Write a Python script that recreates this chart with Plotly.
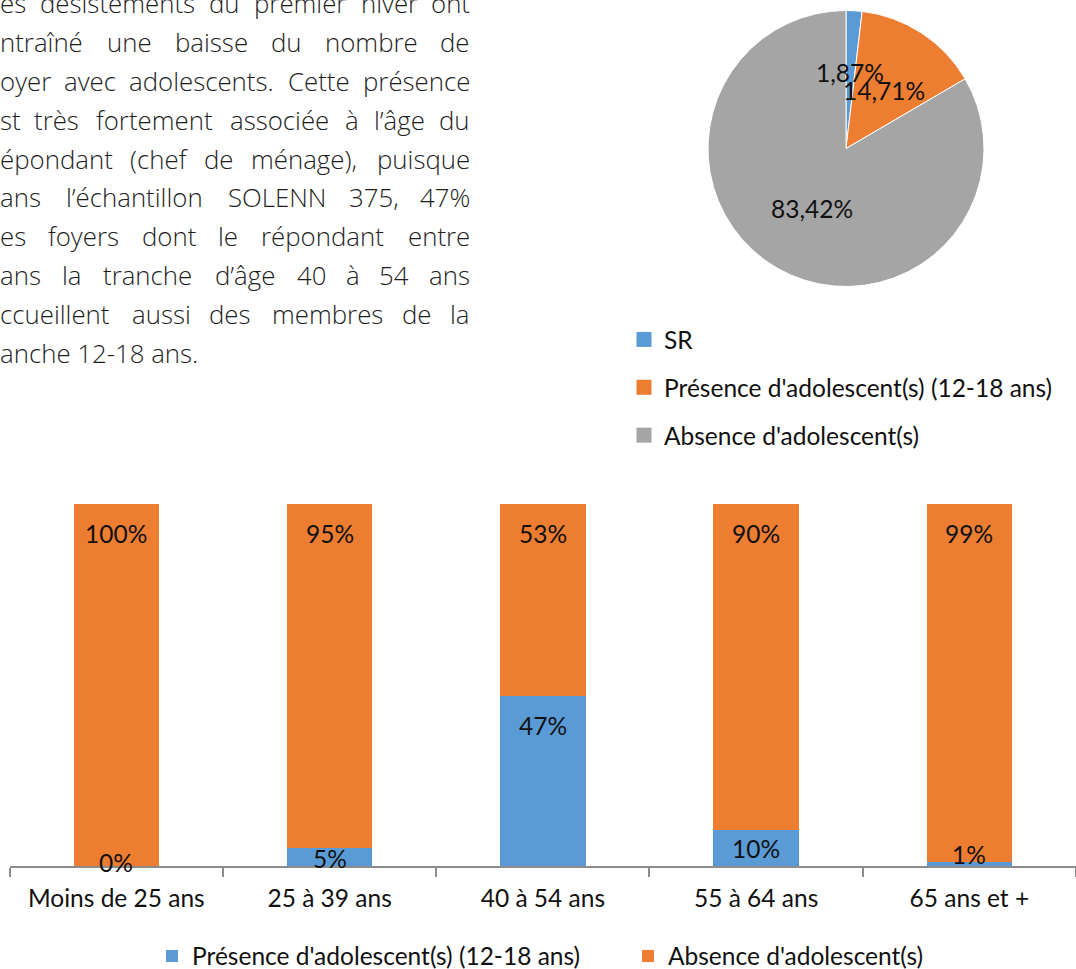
import math
import unicodedata
import plotly.graph_objects as go

W, H = 1076, 969

# ---------------- data ----------------
pie_labels = ["SR", "Présence d'adolescent(s) (12-18 ans)", "Absence d'adolescent(s)"]
pie_values = [1.87, 14.71, 83.42]
pie_text = ["1,87%", "14,71%", "83,42%"]

age_groups = ["Moins de 25 ans", "25 à 39 ans", "40 à 54 ans", "55 à 64 ans", "65 ans et +"]
presence = [0.00, 0.05, 0.47, 0.10, 0.01]
absence = [1.00, 0.95, 0.53, 0.90, 0.99]
presence_text = ["0%", "5%", "47%", "10%", "1%"]
absence_text = ["100%", "95%", "53%", "90%", "99%"]
bar_names = ["Présence d'adolescent(s) (12-18 ans)", "Absence d'adolescent(s)"]

paragraph_lines = [
    "es désistements du premier hiver ont",
    "ntraîné une baisse du nombre de",
    "oyer avec adolescents. Cette présence",
    "st très fortement associée à l’âge du",
    "épondant (chef de ménage), puisque",
    "ans l’échantillon SOLENN 375, 47%",
    "es foyers dont le répondant entre",
    "ans la tranche d’âge 40 à 54 ans",
    "ccueillent aussi des membres de la",
    "anche 12-18 ans.",
]

# ---------------- style ----------------
BLUE, ORANGE, GRAY = "#5B9BD5", "#ED7D31", "#A5A5A5"
pie_colors = [BLUE, ORANGE, GRAY]
CHART_FONT = "Lato, 'Open Sans', sans-serif"
FS = 24.5
TEXT_COL = "#111111"

PARA_FONT = "'Open Sans', 'Noto Sans', sans-serif"
PARA_FS = 25.8
PARA_RIGHT = 471
PARA_BASE0 = 13.5
PARA_PITCH = 38.8

# label nudges (px, positive = up) relative to each segment top
absence_shift = [-29, -29, -29, -29, -29]
presence_shift = [4, -11, -30, -19, 8]
# pie label distance from centre, as a fraction of the radius
pie_label_radius = [0.55, 0.5, 0.5]


def px_x(px):
    return px / W


def px_y(py):
    return 1 - py / H


# approximate Open Sans advance widths (units per 2048 em)
OS_W = {
    " ": 532, "(": 608, ")": 608, ",": 502, "-": 659, ".": 545, "%": 1696,
    "’": 348, "'": 369,
    "S": 1124, "O": 1595, "L": 1063, "E": 1139, "N": 1544, "C": 1292,
    "a": 1139, "b": 1255, "c": 975, "d": 1255, "e": 1149, "f": 694, "g": 1122,
    "h": 1257, "i": 518, "j": 518, "k": 1075, "l": 518, "m": 1905, "n": 1257,
    "o": 1237, "p": 1255, "q": 1255, "r": 836, "s": 977, "t": 723, "u": 1257,
    "v": 1026, "w": 1593, "x": 1073, "y": 1028, "z": 977,
}
for dch in "0123456789":
    OS_W[dch] = 1171


def word_width(word, size):
    tot = 0
    for ch in word:
        base = unicodedata.normalize("NFD", ch)[0]
        tot += OS_W.get(ch, OS_W.get(base, 1100))
    return tot / 2048 * size


fig = go.Figure()

# ---------------- pie ----------------
pie_left, pie_right, pie_top, pie_bottom = 708, 984, 10, 287
fig.add_trace(go.Pie(
    labels=pie_labels, values=pie_values, sort=False, direction="clockwise",
    rotation=0, marker=dict(colors=pie_colors, line=dict(color="white", width=1)),
    textinfo="none", hoverinfo="label+percent", showlegend=False,
    domain=dict(x=[px_x(pie_left), px_x(pie_right)], y=[px_y(pie_bottom), px_y(pie_top)]),
))

# legend entries for the pie (one group per label for spacing)
for lab, col in zip(pie_labels, pie_colors):
    fig.add_trace(go.Scatter(
        x=[None], y=[None], mode="markers", name=lab, legend="legend",
        legendgroup=lab, marker=dict(symbol="square", size=15, color=col),
        showlegend=True, hoverinfo="skip",
    ))

# ---------------- bars ----------------
fig.add_trace(go.Bar(
    x=age_groups, y=presence, name=bar_names[0], marker=dict(color=BLUE, line=dict(width=0)),
    legend="legend2", hoverinfo="x+y",
))
fig.add_trace(go.Bar(
    x=age_groups, y=absence, name=bar_names[1], marker=dict(color=ORANGE, line=dict(width=0)),
    legend="legend3", hoverinfo="x+y",
))

annotations = []
for cat, p, a, pt, at, ps, ash in zip(age_groups, presence, absence, presence_text,
                                      absence_text, presence_shift, absence_shift):
    annotations.append(dict(x=cat, y=p + a, xref="x", yref="y", text=at, showarrow=False,
                            yshift=ash, yanchor="middle",
                            font=dict(family=CHART_FONT, size=FS, color=TEXT_COL)))
    annotations.append(dict(x=cat, y=p, xref="x", yref="y", text=pt, showarrow=False,
                            yshift=ps, yanchor="middle",
                            font=dict(family=CHART_FONT, size=FS, color=TEXT_COL)))

# pie labels placed on slice bisectors
cx = (pie_left + pie_right) / 2
cy = (pie_top + pie_bottom) / 2
r = (pie_right - pie_left) / 2
total = sum(pie_values)
cum = 0
for v, t, rf in zip(pie_values, pie_text, pie_label_radius):
    mid = (cum + v / 2) / total * 2 * math.pi
    cum += v
    lx = cx + rf * r * math.sin(mid)
    ly = cy - rf * r * math.cos(mid)
    annotations.append(dict(x=px_x(lx), y=px_y(ly), xref="paper", yref="paper", text=t,
                            showarrow=False, xanchor="center", yanchor="middle",
                            font=dict(family=CHART_FONT, size=FS, color=TEXT_COL)))

# paragraph (justified by placing words)
for k, line in enumerate(paragraph_lines):
    base = PARA_BASE0 + PARA_PITCH * k
    ymid = px_y(base - 0.39 * PARA_FS)
    words = line.split(" ")
    pfont = dict(family=PARA_FONT, size=PARA_FS, color="#1e1e1e", weight=300)
    if k == len(paragraph_lines) - 1:
        annotations.append(dict(x=px_x(-1), y=ymid, xref="paper", yref="paper", text=line,
                                showarrow=False, xanchor="left", yanchor="middle",
                                font=pfont, borderpad=0))
        continue
    widths = [word_width(w, PARA_FS) for w in words]
    gap = (PARA_RIGHT - (-1) - sum(widths)) / (len(words) - 1)
    xpos = -1
    for i, (w, ww) in enumerate(zip(words, widths)):
        if i == 0:
            xa, xv = "left", xpos
        elif i == len(words) - 1:
            xa, xv = "right", PARA_RIGHT
        else:
            xa, xv = "center", xpos + ww / 2
        annotations.append(dict(x=px_x(xv), y=ymid, xref="paper", yref="paper", text=w,
                                showarrow=False, xanchor=xa, yanchor="middle",
                                font=pfont, borderpad=0))
        xpos += ww + gap

legend_font = dict(family=CHART_FONT, size=FS, color=TEXT_COL)
fig.update_layout(
    width=W, height=H, margin=dict(l=0, r=0, t=0, b=0, pad=0, autoexpand=False),
    paper_bgcolor="white", plot_bgcolor="white",
    barmode="stack", bargap=0.6,
    xaxis=dict(domain=[px_x(9.7), 1.0], type="category", showline=True, linecolor="#8c8c8c",
               linewidth=1.5, ticks="outside", tickson="boundaries", ticklen=9,
               tickcolor="#8c8c8c", tickwidth=1.5, showgrid=False, zeroline=False,
               tickfont=dict(family=CHART_FONT, size=FS, color=TEXT_COL),
               ticklabelstandoff=10, fixedrange=True, automargin=False),
    yaxis=dict(domain=[px_y(866), px_y(504)], range=[0, 1], visible=False, fixedrange=True),
    showlegend=True,
    legend=dict(x=px_x(624), y=px_y(317), xanchor="left", yanchor="top", orientation="v",
                tracegroupgap=13, traceorder="grouped", font=legend_font,
                bgcolor="rgba(0,0,0,0)", itemclick=False, itemdoubleclick=False),
    legend2=dict(x=px_x(152), y=px_y(956), xanchor="left", yanchor="middle",
                 font=legend_font, bgcolor="rgba(0,0,0,0)"),
    legend3=dict(x=px_x(628), y=px_y(956), xanchor="left", yanchor="middle",
                 font=legend_font, bgcolor="rgba(0,0,0,0)"),
    annotations=annotations,
)

# the page's default 8px body margin would shift the whole figure; remove it
fig.write_html("out.html", config={"displayModeBar": False},
               post_script="document.body.style.margin='0';document.body.style.overflow='hidden';")
